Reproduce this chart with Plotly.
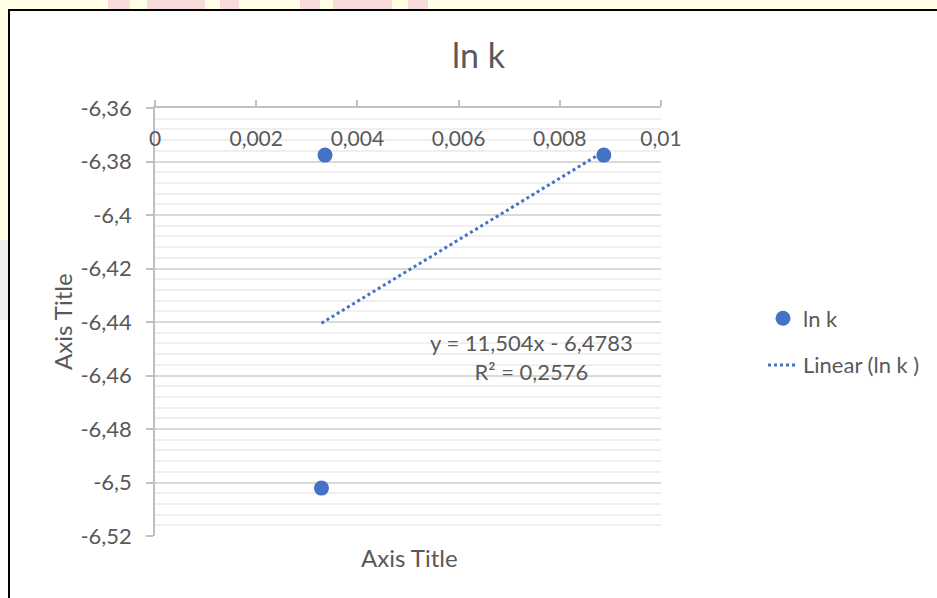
import plotly.graph_objects as go

# data
x_vals = [0.00336, 0.00887, 0.00329]
lnk_vals = [-6.3776, -6.3776, -6.5021]

# Excel linear trendline shown on the chart
slope = 11.504
intercept = -6.4783
trend_label = "y = 11,504x - 6,4783<br>R² = 0,2576"

x_ticks = [0, 0.002, 0.004, 0.006, 0.008, 0.01]
x_ticktext = ["0", "0,002", "0,004", "0,006", "0,008", "0,01"]
y_ticks = [-6.36, -6.38, -6.40, -6.42, -6.44, -6.46, -6.48, -6.50, -6.52]
y_ticktext = ["-6,36", "-6,38", "-6,4", "-6,42", "-6,44", "-6,46", "-6,48", "-6,5", "-6,52"]

W, H = 937, 598
L, R, T, B = 155, 661, 108, 536  # plot area in pixels


def px(xp):
    return (xp - L) / (R - L)


def py(yp):
    return (B - yp) / (B - T)


FONT = "Lato"
GREY = "#595959"
BLUE = "#4472C4"

trend_x = [min(x_vals), max(x_vals)]
trend_y = [slope * v + intercept for v in trend_x]

fig = go.Figure()
fig.add_trace(
    go.Scatter(
        x=x_vals,
        y=lnk_vals,
        mode="markers",
        name="ln k",
        legendgroup="a",
        marker=dict(color=BLUE, size=15),
    )
)
fig.add_trace(
    go.Scatter(
        x=trend_x,
        y=trend_y,
        mode="lines",
        name="Linear (ln k )",
        legendgroup="b",
        line=dict(color=BLUE, width=3, dash="dot"),
    )
)

# screenshot surroundings: yellow page strips, pink watermark, black frame
shapes = [
    dict(type="rect", xref="paper", yref="paper", x0=px(0), x1=px(W), y0=py(9), y1=py(0),
         fillcolor="#FFFDE4", line_width=0, layer="below"),
    dict(type="rect", xref="paper", yref="paper", x0=px(0), x1=px(8), y0=py(240), y1=py(0),
         fillcolor="#FFFDE4", line_width=0, layer="below"),
    dict(type="rect", xref="paper", yref="paper", x0=px(0), x1=px(8), y0=py(320), y1=py(240),
         fillcolor="#EDEDED", line_width=0, layer="below"),
]
for a, b in [(108, 130), (147, 205), (220, 239), (300, 320), (333, 392), (408, 428)]:
    shapes.append(dict(type="rect", xref="paper", yref="paper", x0=px(a), x1=px(b),
                       y0=py(9), y1=py(0), fillcolor="#F8DCDC", line_width=0, layer="below"))
shapes.append(dict(type="line", xref="paper", yref="paper", x0=px(9), x1=px(9),
                   y0=py(H), y1=py(9), line=dict(color="black", width=2)))
shapes.append(dict(type="line", xref="paper", yref="paper", x0=px(8), x1=px(W),
                   y0=py(10), y1=py(10), line=dict(color="black", width=2)))


def label(x, y, text, size, angle=0):
    return dict(xref="paper", yref="paper", x=px(x), y=py(y), text=text,
                xanchor="center", yanchor="middle", textangle=angle,
                showarrow=False, align="center",
                font=dict(family=FONT, size=size, color=GREY))


fig.update_layout(
    width=W,
    height=H,
    margin=dict(l=L, r=W - R, t=T, b=H - B, autoexpand=False),
    paper_bgcolor="white",
    plot_bgcolor="white",
    font=dict(family=FONT, color=GREY, size=21),
    shapes=shapes,
    showlegend=True,
    legend=dict(
        x=px(763), y=py(342), xanchor="left", yanchor="middle",
        font=dict(family=FONT, size=22, color=GREY),
        tracegroupgap=15, traceorder="grouped", itemwidth=30,
        bgcolor="rgba(0,0,0,0)",
    ),
    xaxis=dict(
        range=[0, 0.01],
        side="top",
        automargin=False,
        tickvals=x_ticks,
        ticktext=x_ticktext,
        ticks="outside",
        ticklen=6,
        tickcolor="#BFBFBF",
        tickwidth=1.5,
        ticklabelposition="inside",
        ticklabeloverflow="allow",
        ticklabelstandoff=25,
        tickfont=dict(family=FONT, size=21, color=GREY),
        showline=True,
        linecolor="#BFBFBF",
        linewidth=1.5,
        showgrid=False,
        zeroline=False,
    ),
    yaxis=dict(
        range=[-6.52, -6.36],
        automargin=False,
        tickvals=y_ticks,
        ticktext=y_ticktext,
        ticks="outside",
        ticklen=7,
        tickcolor="#BFBFBF",
        tickwidth=1.5,
        ticklabeloverflow="allow",
        ticklabelstandoff=10,
        tickfont=dict(family=FONT, size=22, color=GREY),
        showline=True,
        linecolor="#BFBFBF",
        linewidth=1.5,
        showgrid=True,
        gridcolor="#D9D9D9",
        gridwidth=1.5,
        minor=dict(dtick=0.004, showgrid=True, gridcolor="#EFEFEF", gridwidth=1.5),
        zeroline=False,
    ),
    annotations=[
        label(479, 54, "ln k", 34),
        label(409, 557, "Axis Title", 24),
        label(62, 322, "Axis Title", 24, angle=-90),
        label(531, 357, trend_label, 22),
    ],
)

# the page body has a default 8px margin; drop it so the figure fills the window
fig.write_html(
    "out.html",
    config={"displayModeBar": False},
    post_script="document.body.style.margin = '0';",
)
